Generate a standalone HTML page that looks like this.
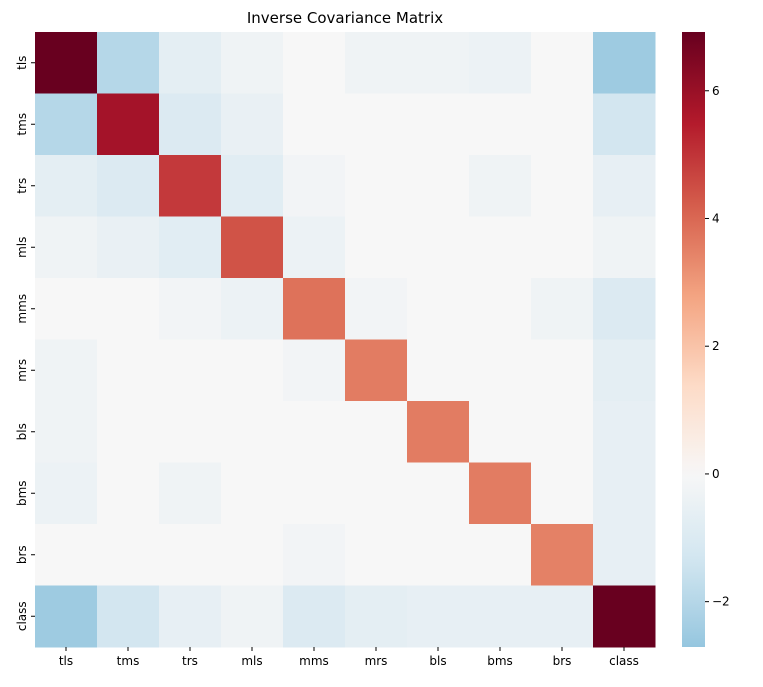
<!DOCTYPE html>
<html><head><meta charset="utf-8"><style>
body{margin:0;background:#fff;font-family:"Liberation Sans","DejaVu Sans",sans-serif;}
svg text{font-family:"DejaVu Sans","Liberation Sans",sans-serif;fill:#000}
</style></head><body>
<svg id="chart" width="763" height="682" xmlns="http://www.w3.org/2000/svg">
<defs><linearGradient id="cbg" x1="0" y1="1" x2="0" y2="0"></linearGradient></defs>
<text x="345" y="23" font-size="15" text-anchor="middle">Inverse Covariance Matrix</text>
<g id="cells"></g><g id="xt"></g><g id="yt"></g>
<rect x="682" y="32" width="23" height="615" fill="url(#cbg)"/>
<g id="ct"></g>
</svg>
<script>
const labels=["tls","tms","trs","mls","mms","mrs","bls","bms","brs","class"];
const row0=[6.9,-2.0,-0.7,-0.3,0,-0.3,-0.3,-0.4,0,-2.5];
const row1=[-2.0,5.8,-1.0,-0.5,0,0,0,0,0,-1.3];
const row2=[-0.7,-1.0,4.9,-0.8,-0.2,0,0,-0.3,0,-0.6];
const row3=[-0.3,-0.5,-0.8,4.4,-0.4,0,0,0,0,-0.3];
const row4=[0,0,-0.2,-0.4,3.8,-0.2,0,0,-0.3,-1.0];
const row5=[-0.3,0,0,0,-0.2,3.6,0,0,0,-0.7];
const row6=[-0.3,0,0,0,0,0,3.6,0,0,-0.6];
const row7=[-0.4,0,-0.3,0,0,0,0,3.6,0,-0.6];
const row8=[0,0,0,0,-0.2,0,0,0,3.5,-0.6];
const row9=[-2.5,-1.3,-0.6,-0.3,-1.0,-0.7,-0.6,-0.6,-0.6,6.9];
const matrix=[row0,row1,row2,row3,row4,row5,row6,row7,row8,row9];
const cbTicks=[-2,0,2,4,6];
const vmin=-2.71,vmax=6.92;
const L=35,T=32,W=620,H=615;
const anchors=["#053061","#2166ac","#4393c3","#92c5de","#d1e5f0","#f7f7f7","#fddbc7","#f4a582","#d6604d","#b2182b","#67001f"];
function hx(c){return[1,3,5].map(i=>parseInt(c.substr(i,2),16));}
function cmap(t){t=Math.max(0,Math.min(1,t));const p=t*10,i=Math.min(9,Math.floor(p)),f=p-i;const a=hx(anchors[i]),b=hx(anchors[i+1]);return "rgb("+a.map((v,k)=>Math.round(v+(b[k]-v)*f)).join(",")+")";}
const vr=Math.max(vmax,-vmin);
function color(v){return cmap((v+vr)/(2*vr));}
const n=labels.length,cw=W/n,ch=H/n;
function xs(i){return L+i*cw;} function ys(i){return T+i*ch;}
function cy(v){return T+H-(v-vmin)/(vmax-vmin)*H;}
const NS="http://www.w3.org/2000/svg";
const cells=document.getElementById('cells');
matrix.forEach((r,i)=>r.forEach((v,j)=>{const e=document.createElementNS(NS,'rect');
e.setAttribute('x',xs(j));e.setAttribute('y',ys(i));e.setAttribute('width',cw+0.5);e.setAttribute('height',ch+0.5);e.setAttribute('fill',color(v));


cells.appendChild(e);}));
const xt=document.getElementById('xt'),yt=document.getElementById('yt');
labels.forEach((l,i)=>{
let x=xs(i)+cw/2;
let tk=document.createElementNS(NS,'line');tk.setAttribute('x1',x);tk.setAttribute('x2',x);tk.setAttribute('y1',T+H);tk.setAttribute('y2',T+H+4);tk.setAttribute('stroke','#000');xt.appendChild(tk);
let t=document.createElementNS(NS,'text');t.setAttribute('x',x);t.setAttribute('y',T+H+18);t.setAttribute('font-size','12');t.setAttribute('text-anchor','middle');t.textContent=l;


xt.appendChild(t);
let y=ys(i)+ch/2;
let tk2=document.createElementNS(NS,'line');tk2.setAttribute('x1',L-4);tk2.setAttribute('x2',L);tk2.setAttribute('y1',y);tk2.setAttribute('y2',y);tk2.setAttribute('stroke','#000');yt.appendChild(tk2);
let t2=document.createElementNS(NS,'text');t2.setAttribute('x',0);t2.setAttribute('y',0);t2.setAttribute('font-size','12');t2.setAttribute('text-anchor','middle');t2.setAttribute('transform','translate('+(L-9)+','+y+') rotate(-90)');t2.textContent=l;


yt.appendChild(t2);});
const g=document.getElementById('cbg');
for(let k=0;k<=40;k++){const v=vmin+(vmax-vmin)*k/40;const s=document.createElementNS(NS,'stop');s.setAttribute('offset',k/40);s.setAttribute('stop-color',color(v));g.appendChild(s);}
const ct=document.getElementById('ct');
cbTicks.forEach(v=>{const y=cy(v);
let tk=document.createElementNS(NS,'line');tk.setAttribute('x1',705);tk.setAttribute('x2',709);tk.setAttribute('y1',y);tk.setAttribute('y2',y);tk.setAttribute('stroke','#000');ct.appendChild(tk);
let t=document.createElementNS(NS,'text');t.setAttribute('x',712);t.setAttribute('y',y+4);t.setAttribute('font-size','12');t.textContent=v<0?'\u2212'+(-v):v;


ct.appendChild(t);});
</script>
</body></html>
